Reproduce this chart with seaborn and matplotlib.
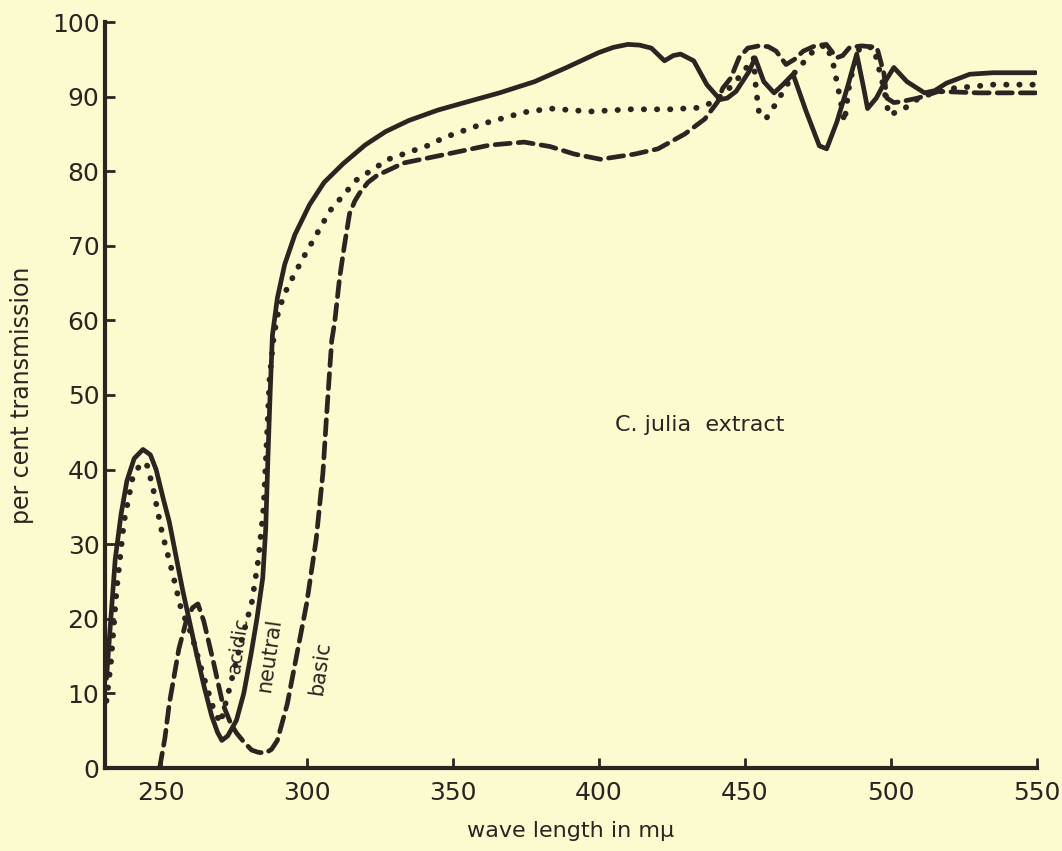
import numpy as np
import pandas as pd
import seaborn as sns
import matplotlib
matplotlib.use("Agg")
import matplotlib.pyplot as plt

# ---------------------------------------------------------------------------
# data (wave length in m\u03bc, per cent transmission)
# ---------------------------------------------------------------------------
neutral_wl = [231.5, 233, 234.5, 236.5, 238.5, 241, 244, 246.5, 248.5, 251, 253, 255,
              257.5, 260, 262.5, 265, 267.5, 269.5, 271, 273, 276, 278.5, 281, 283,
              285, 286, 286.8, 287.5, 288.3, 290, 292.5, 296, 301, 306, 312.5, 320,
              327, 335, 345, 355, 366, 378, 389, 400, 405, 410, 414, 418, 422.5,
              425.5, 428, 432.5, 437, 441.5, 444, 447, 451.5, 453.5, 456.5, 460, 463,
              466.5, 471, 475.5, 478, 481.5, 485, 488.3, 490.7, 492, 495, 498, 501,
              505.5, 511.5, 515, 519, 527, 535, 549.5]
neutral_T = [12, 20, 28, 34, 38.5, 41.5, 42.7, 42, 40, 36, 33, 29,
             24, 19.5, 15, 10.8, 7, 4.8, 3.7, 4.3, 6.4, 10, 15.3, 20,
             25.5, 32, 42, 50, 58, 63, 67.5, 71.5, 75.5, 78.5, 81, 83.5,
             85.3, 86.8, 88.2, 89.3, 90.5, 92, 93.9, 95.9, 96.6, 97, 96.9, 96.5, 94.8,
             95.5, 95.7, 94.8, 91.6, 89.6, 89.8, 90.7, 93.4, 95.2, 92, 90.5, 91.6,
             93, 88, 83.4, 83, 86.6, 91.1, 95.7, 91.1, 88.4, 89.8, 92, 93.9,
             92, 90.5, 90.8, 91.8, 93, 93.2, 93.2]

acidic_wl = [231.5, 233, 235, 237.5, 240.5, 243.5, 245.5, 247.5, 250.5, 254, 257,
             260.5, 264.5, 268, 270.5, 273.5, 277, 281.3, 283.5, 285.3, 286.5, 287.3,
             288.5, 289.5, 290.5, 293.4, 299, 308, 317, 328, 342, 347, 360.7, 374.5,
             383.4, 397, 411, 424.6, 433.8, 438.2, 441, 446, 451.4, 453, 453.8, 454.8,
             457.2, 460.7, 466.6, 473.4, 477.9, 480.3, 482.4, 484.1, 485.9, 489.3,
             494.1, 497.6, 499.3, 504.6, 510.3, 521, 535, 549.5]
acidic_T = [9, 14, 24, 33, 39, 41, 40.5, 37.4, 31.6, 26.3, 21.4,
            18, 12.6, 8.1, 6, 10.5, 16, 22.3, 28, 35, 45, 52,
            57, 59.5, 61.5, 64.4, 68.5, 74.7, 78.8, 81.6, 83.5, 84.5, 86.4, 87.9,
            88.4, 88, 88.3, 88.3, 88.5, 89.1, 89.8, 91.6, 94.3, 95.2, 91.1, 88,
            87, 89.1, 93, 96.1, 97, 94.3, 90.2, 86.6, 92, 96.6,
            96.6, 91.1, 87.5, 88.4, 90, 91.1, 91.6, 91.6]

basic_wl = [249.7, 251.5, 253, 256.3, 259, 261, 262.8, 264.8, 268, 271.3, 274, 276,
            278.5, 281.2, 283.5, 285.9, 288, 290, 293.4, 296.7, 300, 303.3, 305.6,
            306.8, 308.6, 309.6, 311.3, 313, 314.7, 316.5, 318.2, 321, 324, 333.2,
            346.9, 362.7, 374.5, 383.4, 391.6, 400.6, 412.4, 420.3, 429.5, 436.3,
            440.7, 442.4, 445.2, 448, 451, 454.8, 458, 460.7, 464.1, 467, 470, 474,
            477.9, 481.4, 483.5, 485.9, 490, 495.2, 497.6, 498.6, 501, 503.2, 509.2,
            516.3, 530, 549.5]
basic_T = [0, 4, 8.6, 16, 20, 21.5, 22, 19.7, 14.4, 8.6, 6, 4.7,
           3.5, 2.4, 2.1, 2.0, 2.5, 3.7, 8.6, 15.3, 22, 30.7, 39.6,
           47, 57.3, 59.7, 65.7, 70.2, 74.3, 76, 77.1, 78.5, 79.4, 81.1,
           82.2, 83.5, 83.9, 83.3, 82.3, 81.6, 82.3, 83, 85, 87,
           89.3, 91.1, 92.5, 95.2, 96.5, 96.8, 96.7, 96.1, 94.3, 95, 96.1, 96.8,
           97, 95.2, 95.5, 96.6, 96.8, 96.6, 93.1, 89.8, 89.2, 89.3, 89.8,
           90.7, 90.5, 90.5]

x_ticks = [250, 300, 350, 400, 450, 500, 550]
y_ticks = [0, 10, 20, 30, 40, 50, 60, 70, 80, 90, 100]

# ---------------------------------------------------------------------------
# styling
# ---------------------------------------------------------------------------
PAPER = "#fcfbd0"
INK = "#2a2520"
LW = 3.4

sns.set_style("ticks")
plt.rcParams["font.family"] = ["DejaVu Sans"]
plt.rcParams["text.color"] = INK
plt.rcParams["axes.labelcolor"] = INK

fig = plt.figure(figsize=(10.62, 8.51), dpi=100, facecolor=PAPER)
ax = fig.add_axes([105 / 1062, 1 - 768 / 851, (1037 - 105) / 1062, (768 - 22) / 851])
ax.set_facecolor(PAPER)

neutral = pd.DataFrame({"wl": neutral_wl, "T": neutral_T})
acidic = pd.DataFrame({"wl": acidic_wl, "T": acidic_T})
basic = pd.DataFrame({"wl": basic_wl, "T": basic_T})

sns.lineplot(data=neutral, x="wl", y="T", ax=ax, color=INK, linewidth=LW,
             solid_capstyle="round", solid_joinstyle="round")
sns.lineplot(data=acidic, x="wl", y="T", ax=ax, color=INK, linewidth=4.2,
             linestyle=(0, (0.05, 2.2)), dash_capstyle="round")
sns.lineplot(data=basic, x="wl", y="T", ax=ax, color=INK, linewidth=LW,
             linestyle=(0, (3.2, 1.7)), dash_capstyle="round")

ax.set_xlim(231, 550)
ax.set_ylim(0, 100)
ax.set_xticks(x_ticks)
ax.set_yticks(y_ticks)

for side in ["top", "right"]:
    ax.spines[side].set_visible(False)
for side in ["left", "bottom"]:
    ax.spines[side].set_linewidth(3)
    ax.spines[side].set_color(INK)

ax.tick_params(direction="in", length=7, width=2, color=INK, labelcolor=INK,
               labelsize=18)
ax.tick_params(axis="y", pad=4)
ax.tick_params(axis="x", pad=9)

ax.set_xlabel("wave length in m\u03bc", fontsize=16, labelpad=12)
ax.set_ylabel("per cent transmission", fontsize=17)
ax.yaxis.set_label_coords(-0.076, 0.5)

# annotations
ax.text(405.5, 46, "C. julia  extract", fontsize=16, ha="left", va="center")
ax.text(276.5, 16.5, "acidic", rotation=82, fontsize=14, ha="center", va="center")
ax.text(287.4, 15.1, "neutral", rotation=82, fontsize=15, ha="center", va="center")
ax.text(304.6, 13.4, "basic", rotation=82, fontsize=15, ha="center", va="center")

fig.savefig("out.png", dpi=100, facecolor=PAPER)
